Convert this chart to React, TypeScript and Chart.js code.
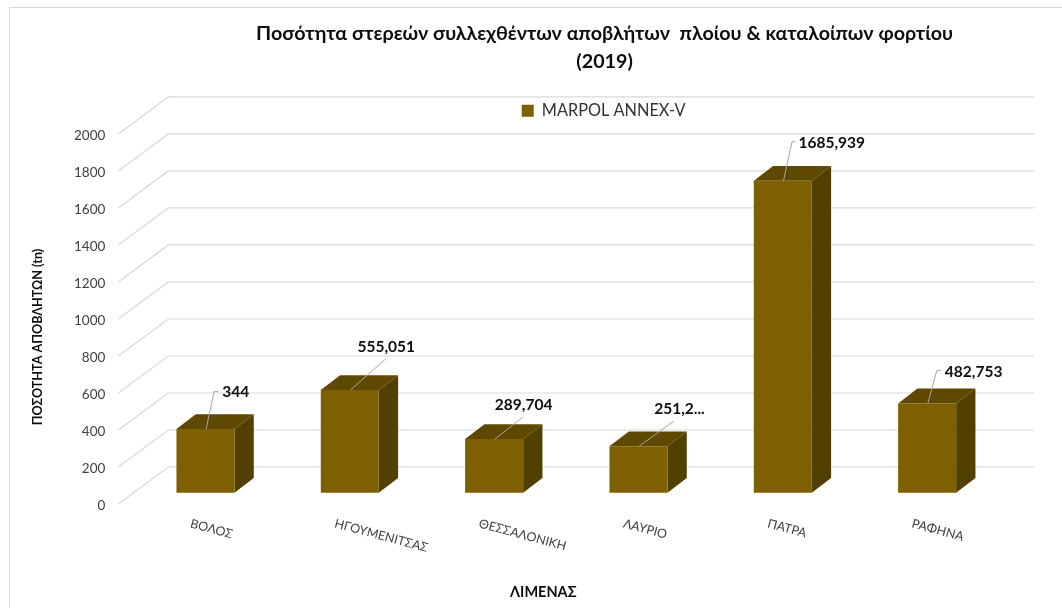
import React, { useEffect, useRef } from "react";
import { Chart, registerables, CategoryScale, LinearScale } from "chart.js";

Chart.register(...registerables);

// ---- data ----
const categories = ["ΒΟΛΟΣ", "ΗΓΟΥΜΕΝΙΤΣΑΣ", "ΘΕΣΣΑΛΟΝΙΚΗ", "ΛΑΥΡΙΟ", "ΠΑΤΡΑ", "ΡΑΦΗΝΑ"];
const seriesName = "MARPOL ANNEX-V";
const values = [344, 555.051, 289.704, 251.2, 1685.939, 482.753];
const valueLabels = ["344", "555,051", "289,704", "251,2...", "1685,939", "482,753"];
const titleLines = ["Ποσότητα στερεών συλλεχθέντων αποβλήτων  πλοίου & καταλοίπων φορτίου", "(2019)"];
const yTitle = "ΠΟΣΟΤΗΤΑ ΑΠΟΒΛΗΤΩΝ (tn)";
const xTitle = "ΛΙΜΕΝΑΣ";

// ---- styling / placement of callouts, relative to each bar's top centre ----
const leaders = [
  [[8, -37.5], [12, -37.5]],
  [[35, -31]],
  [[28, -22]],
  [[34.5, -25]],
  [[8.5, -39], [12, -39]],
  [[9, -33], [13, -33]],
];
const labelOffsets = [[16, -37], [7, -43], [0, -34], [15, -37], [15, -38], [17, -31]];

const FONT = 'Lato, "Open Sans", sans-serif';
const FRONT = "#7F6000";
const TOP = "#5F4800";
const SIDE = "#524000";
const GRID = "#D9D9D9";
const WALL_DX = 50;
const WALL_DY = -37;
const BAR_SHIFT_X = 15;
const BAR_SHIFT_Y = -11.3;
const BAR_DX = 19.3;
const BAR_DY = -14.8;

class SlantedCategoryScale extends CategoryScale {
  static id = "slantedCategory";
  static defaults = {};
  _getXAxisLabelAlignment() {
    return "left";
  }
  drawTitle() {
    const c = this.ctx;
    c.save();
    c.translate(-8, 0);
    super.drawTitle();
    c.restore();
  }
}

class ShiftedTitleLinearScale extends LinearScale {
  static id = "shiftedTitleLinear";
  static defaults = {};
  drawTitle() {
    const c = this.ctx;
    c.save();
    c.translate(0, 18);
    super.drawTitle();
    c.restore();
  }
  drawLabels(area: any) {
    const c = this.ctx;
    c.save();
    c.translate(0, 2);
    super.drawLabels(area);
    c.restore();
  }
}

Chart.register(SlantedCategoryScale, ShiftedTitleLinearScale);

const wall3d = {
  id: "wall3d",
  afterLayout(chart: any) {
    if (chart.titleBlock) {
      chart.titleBlock.left += 112.4;
      chart.titleBlock.right += 112.4;
    }
    if (chart.legend) {
      chart.legend.left += 111.5;
      chart.legend.right += 111.5;
      chart.legend.top -= 5;
      chart.legend.bottom -= 5;
    }
  },
  beforeDatasetsDraw(chart: any) {
    const { ctx, chartArea, scales } = chart;
    const y = scales.y;
    ctx.save();
    ctx.strokeStyle = GRID;
    ctx.lineWidth = 1.2;
    y.ticks.forEach((_: any, i: number) => {
      const py = y.getPixelForTick(i);
      ctx.beginPath();
      ctx.moveTo(chartArea.left, py);
      ctx.lineTo(chartArea.left + WALL_DX, py + WALL_DY);
      ctx.lineTo(chartArea.right + WALL_DX, py + WALL_DY);
      ctx.stroke();
    });
    ctx.restore();

    ctx.save();
    ctx.translate(BAR_SHIFT_X, BAR_SHIFT_Y);
    chart.getDatasetMeta(0).data.forEach((bar: any) => {
      const l = bar.x - bar.width / 2;
      const r = bar.x + bar.width / 2;
      const t = bar.y;
      const b = bar.base;
      ctx.fillStyle = TOP;
      ctx.beginPath();
      ctx.moveTo(l, t);
      ctx.lineTo(l + BAR_DX, t + BAR_DY);
      ctx.lineTo(r + BAR_DX, t + BAR_DY);
      ctx.lineTo(r, t);
      ctx.closePath();
      ctx.fill();
      ctx.fillStyle = SIDE;
      ctx.beginPath();
      ctx.moveTo(r, t);
      ctx.lineTo(r + BAR_DX, t + BAR_DY);
      ctx.lineTo(r + BAR_DX, b + BAR_DY);
      ctx.lineTo(r, b);
      ctx.closePath();
      ctx.fill();
    });
  },
  afterDatasetsDraw(chart: any) {
    const { ctx } = chart;
    ctx.restore();
    ctx.save();
    chart.getDatasetMeta(0).data.forEach((bar: any, i: number) => {
      const ox = bar.x + BAR_SHIFT_X + 0.7;
      const oy = bar.y + BAR_SHIFT_Y;
      ctx.strokeStyle = "#A6A6A6";
      ctx.lineWidth = 1;
      ctx.beginPath();
      ctx.moveTo(ox, oy);
      leaders[i].forEach(([dx, dy]) => ctx.lineTo(ox + dx, oy + dy));
      ctx.stroke();
      ctx.fillStyle = "#0D0D0D";
      ctx.font = `bold 15.5px ${FONT}`;
      ctx.textAlign = "left";
      ctx.textBaseline = "middle";
      ctx.fillText(valueLabels[i], ox + labelOffsets[i][0], oy + labelOffsets[i][1]);
    });
    ctx.restore();
  },
};

export default function App() {
  const ref = useRef<HTMLCanvasElement>(null);
  useEffect(() => {
    const chart = new Chart(ref.current as HTMLCanvasElement, {
      type: "bar",
      data: {
        labels: categories,
        datasets: [
          {
            label: seriesName,
            data: values,
            backgroundColor: FRONT,
            barPercentage: 0.402,
            categoryPercentage: 1,
            clip: false,
          } as any,
        ],
      },
      plugins: [wall3d],
      options: {
        animation: false,
        responsive: false,
        layout: { autoPadding: false, padding: { top: 0, left: 0, right: 77.7, bottom: 0 } },
        plugins: {
          tooltip: { enabled: false },
          title: {
            display: true,
            text: titleLines,
            color: "#0D0D0D",
            font: { family: FONT, size: 19.7, weight: "bold", lineHeight: 1.42 },
            padding: { top: 20, bottom: 21.7 },
          },
          legend: {
            display: true,
            position: "top",
            labels: {
              color: "#333333",
              font: { family: FONT, size: 16.3 },
              boxWidth: 12,
              boxHeight: 12,
              padding: 10,
            },
          },
        },
        scales: {
          x: {
            type: "slantedCategory",
            offset: true,
            grid: { display: false, drawTicks: false },
            border: { display: false },
            ticks: { color: "#404040", font: { family: FONT, size: 12.5 }, minRotation: -15, maxRotation: -15, padding: 12, autoSkip: false },
            title: { display: true, text: xTitle, color: "#0D0D0D", font: { family: FONT, size: 14.5, weight: "bold" }, padding: { top: 0, bottom: 7 } },
            afterFit: (s: any) => { s.height = 104; },
          } as any,
          y: {
            type: "shiftedTitleLinear",
            min: 0,
            max: 2000,
            grid: { display: false, drawTicks: false },
            border: { display: false },
            ticks: { stepSize: 200, color: "#404040", font: { family: FONT, size: 13.5 }, padding: 13, callback: (v: any) => String(v) },
            title: { display: true, text: yTitle, color: "#0D0D0D", font: { family: FONT, size: 12.6, weight: "bold" }, padding: { top: 30, bottom: 0 } },
            afterFit: (s: any) => { s.width = 118.3; },
          } as any,
        },
      },
    });
    return () => chart.destroy();
  }, []);
  return (
    <div style={{ position: "absolute", left: 0, top: 0, width: 1062, height: 608, overflow: "hidden", background: "#fff" }}>
      <div style={{ position: "absolute", left: 9, top: 7, width: 1100, height: 700, borderLeft: "1px solid #D9D9D9", borderTop: "1px solid #D9D9D9" }} />
      <canvas ref={ref} width={1062} height={608} style={{ position: "absolute", left: 0, top: 0, display: "block" }} />
    </div>
  );
}
